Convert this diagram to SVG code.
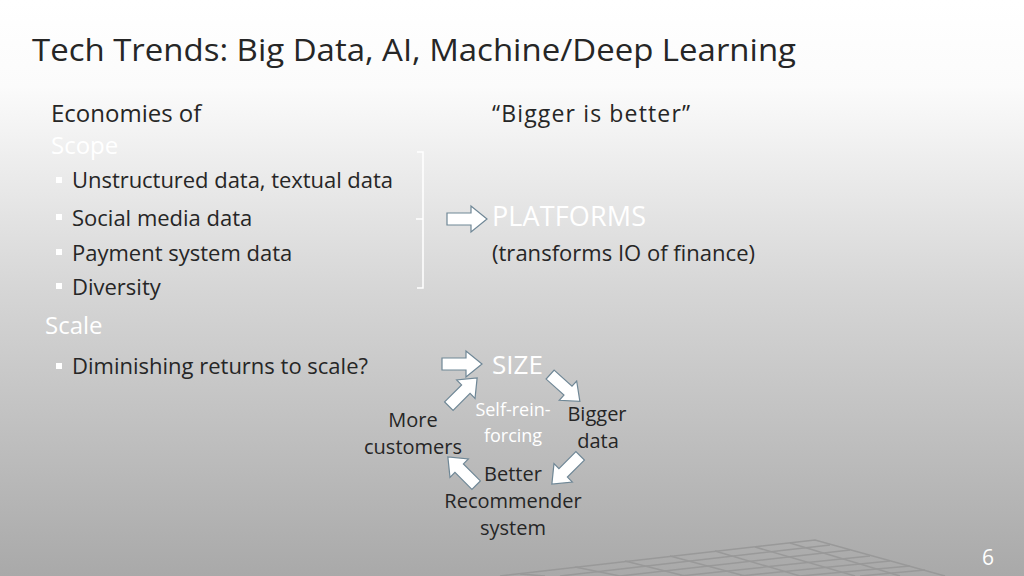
<svg xmlns="http://www.w3.org/2000/svg" width="1024" height="576" viewBox="0 0 1024 576">
<defs>
<linearGradient id="bg" x1="0" y1="0" x2="0" y2="1">
<stop offset="0" stop-color="#ffffff"/>
<stop offset="0.15" stop-color="#fbfbfb"/>
<stop offset="0.5" stop-color="#d6d6d6"/>
<stop offset="1" stop-color="#a9a9a9"/>
</linearGradient>
<polygon id="arr" points="-20,-6 4,-6 4,-13 20,0 4,13 4,6 -20,6"/>
</defs>
<style>
text{font-family:"Open Sans","Liberation Sans",sans-serif;fill:#262626}
.w{fill:#ffffff}
.a{fill:#ffffff;stroke:#6f8796;stroke-width:1.2}
.g{stroke:#999;stroke-width:1.5;fill:none}
</style>
<rect width="1024" height="576" fill="url(#bg)"/>
<g id="grid" class="g">
<path d="M500,576 L815,540 L945,576"/>
<path d="M560,576 L830,545 M620,576 L850,550 M680,576 L870,556 M740,576 L890,561 M800,576 L910,566 M860,576 L925,570"/>
<path d="M520,574 L545,576 M575,567 L620,576 M625,561 L685,576 M670,556 L745,576 M715,551 L800,576 M755,547 L855,576 M790,543 L900,576"/>
</g>
<text x="32" y="61" font-size="31" textLength="764" lengthAdjust="spacingAndGlyphs">Tech Trends: Big Data, AI, Machine/Deep Learning</text>
<g id="left" font-size="24">
<text x="51" y="122">Economies of</text>
<text x="51" y="154" class="w">Scope</text>
<rect x="56" y="177" width="6" height="6" fill="#fff"/><text x="72" y="188" font-size="22" textLength="321">Unstructured data, textual data</text>
<rect x="56" y="214" width="6" height="6" fill="#fff"/><text x="72" y="226" font-size="22">Social media data</text>
<rect x="56" y="249" width="6" height="6" fill="#fff"/><text x="72" y="261" font-size="22">Payment system data</text>
<rect x="56" y="283" width="6" height="6" fill="#fff"/><text x="72" y="295" font-size="22">Diversity</text>
<text x="45" y="334" class="w">Scale</text>
<rect x="56" y="363" width="6" height="6" fill="#fff"/><text x="72" y="374" font-size="22" textLength="296">Diminishing returns to scale?</text>
</g>
<text x="492" y="122" font-size="23" textLength="198">“Bigger is better”</text>
<path d="M417,152 H423 V288 H417 M423,219 H416" stroke="#fff" stroke-width="1.5" fill="none"/>
<g id="connectors">
<use href="#arr" class="a" transform="translate(467,219)"/>
<use href="#arr" class="a" transform="translate(462,364)"/>
<use href="#arr" class="a" transform="translate(565,388) rotate(42)"/>
<use href="#arr" class="a" transform="translate(566,470) rotate(135)"/>
<use href="#arr" class="a" transform="translate(462,471) rotate(-135)"/>
<use href="#arr" class="a" transform="translate(463,392) rotate(-45)"/>
</g>
<g id="platforms"><text x="492" y="226" font-size="27" class="w" textLength="154">PLATFORMS</text>
<text x="492" y="261" font-size="22" textLength="263">(transforms IO of finance)</text></g>
<g id="size"><text x="492" y="374" font-size="26" class="w">SIZE</text></g>
<g id="center" font-size="18" text-anchor="middle" class="w"><text x="513" y="416" class="w">Self-rein-</text><text x="513" y="442" class="w">forcing</text></g>
<g id="bigger" font-size="20" text-anchor="middle"><text x="597" y="421">Bigger</text><text x="598" y="448">data</text></g>
<g id="better" font-size="20" text-anchor="middle"><text x="513" y="481">Better</text><text x="513" y="508">Recommender</text><text x="513" y="535">system</text></g>
<g id="more" font-size="20" text-anchor="middle"><text x="413" y="427">More</text><text x="413" y="454">customers</text></g>
<text x="988" y="565" font-size="21" text-anchor="middle" class="w">6</text>
</svg>
